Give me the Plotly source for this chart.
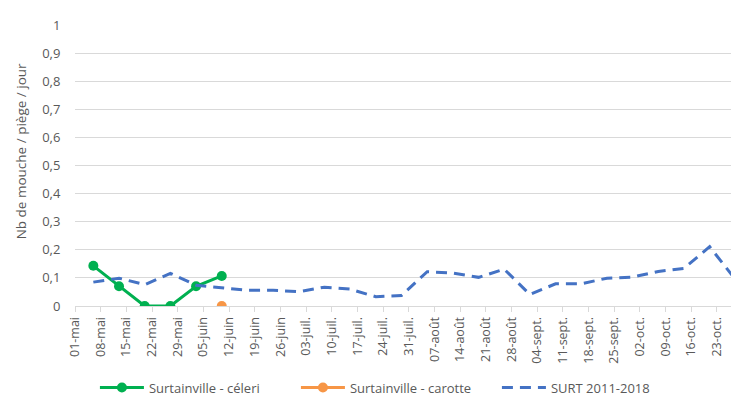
import plotly.graph_objects as go

# Data
dates = ["2019-05-06", "2019-05-13", "2019-05-20", "2019-05-27", "2019-06-03", "2019-06-10",
         "2019-06-17", "2019-06-24", "2019-07-01", "2019-07-08", "2019-07-15", "2019-07-22",
         "2019-07-29", "2019-08-05", "2019-08-12", "2019-08-19", "2019-08-26", "2019-09-02",
         "2019-09-09", "2019-09-16", "2019-09-23", "2019-09-30", "2019-10-07", "2019-10-14",
         "2019-10-21", "2019-10-28"]
celeri_dates = dates[:6]
celeri_values = [0.143, 0.07, 0.0, 0.0, 0.07, 0.107]
carotte_dates = ["2019-06-10"]
carotte_values = [0.0]
surt_values = [0.085, 0.099, 0.076, 0.116, 0.074, 0.064, 0.056, 0.056, 0.051, 0.067,
               0.060, 0.033, 0.037, 0.122, 0.117, 0.102, 0.131, 0.041, 0.079, 0.079,
               0.099, 0.103, 0.123, 0.134, 0.211, 0.095]

tick_dates = ["2019-05-01", "2019-05-08", "2019-05-15", "2019-05-22", "2019-05-29", "2019-06-05",
              "2019-06-12", "2019-06-19", "2019-06-26", "2019-07-03", "2019-07-10", "2019-07-17",
              "2019-07-24", "2019-07-31", "2019-08-07", "2019-08-14", "2019-08-21", "2019-08-28",
              "2019-09-04", "2019-09-11", "2019-09-18", "2019-09-25", "2019-10-02", "2019-10-09",
              "2019-10-16", "2019-10-23"]
tick_labels = ["01-mai", "08-mai", "15-mai", "22-mai", "29-mai", "05-juin", "12-juin", "19-juin",
               "26-juin", "03-juil.", "10-juil.", "17-juil.", "24-juil.", "31-juil.", "07-août",
               "14-août", "21-août", "28-août", "04-sept.", "11-sept.", "18-sept.", "25-sept.",
               "02-oct.", "09-oct.", "16-oct.", "23-oct."]
y_ticks = [0, 0.1, 0.2, 0.3, 0.4, 0.5, 0.6, 0.7, 0.8, 0.9, 1]
y_labels = ["0", "0,1", "0,2", "0,3", "0,4", "0,5", "0,6", "0,7", "0,8", "0,9", "1"]
y_title = "Nb de mouche / piège / jour"

GREY = "#595959"
FONT = "Open Sans"

fig = go.Figure()
fig.add_trace(go.Scatter(
    x=celeri_dates, y=celeri_values, mode="lines+markers", name="Surtainville - céleri",
    line=dict(color="#00B050", width=3), marker=dict(size=10, color="#00B050")))
fig.add_trace(go.Scatter(
    x=carotte_dates, y=carotte_values, mode="lines+markers", name="Surtainville - carotte",
    line=dict(color="#F79646", width=3), marker=dict(size=10, color="#F79646")))
fig.add_trace(go.Scatter(
    x=dates, y=surt_values, mode="lines", name="SURT 2011-2018",
    line=dict(color="#4472C4", width=3, dash="11px,7px", shape="linear")))

fig.update_layout(
    width=739, height=403,
    margin=dict(l=67, r=8, t=13, b=98),
    paper_bgcolor="white", plot_bgcolor="white",
    font=dict(family=FONT, color=GREY, size=12),
    showlegend=True,
    legend=dict(orientation="h", x=0.03, xanchor="left", y=-0.29, yanchor="middle",
                font=dict(size=13, color=GREY), traceorder="normal",
                itemwidth=44, entrywidth=142, entrywidthmode="pixels"),
    xaxis=dict(
        type="date", range=["2019-05-01", "2019-10-29"],
        tickmode="array", tickvals=tick_dates, ticktext=tick_labels,
        tickangle=-90, tickfont=dict(size=12.5, color=GREY),
        showgrid=False, showline=True, linecolor="#D9D9D9", linewidth=1,
        ticks="outside", ticklen=5, tickcolor="#D9D9D9", zeroline=False),
    yaxis=dict(
        range=[0, 1], tickmode="array", tickvals=y_ticks, ticktext=y_labels,
        tickfont=dict(size=13, color=GREY),
        showgrid=True, gridcolor="#D9D9D9", gridwidth=1, zeroline=False,
        ticks="outside", ticklen=11, tickcolor="rgba(0,0,0,0)"),
    annotations=[dict(
        text=y_title, textangle=-90, xref="paper", yref="paper",
        x=-0.08, y=0.55, xanchor="center", yanchor="middle", showarrow=False,
        font=dict(size=13.5, color=GREY))],
)

fig.write_html("out.html")
